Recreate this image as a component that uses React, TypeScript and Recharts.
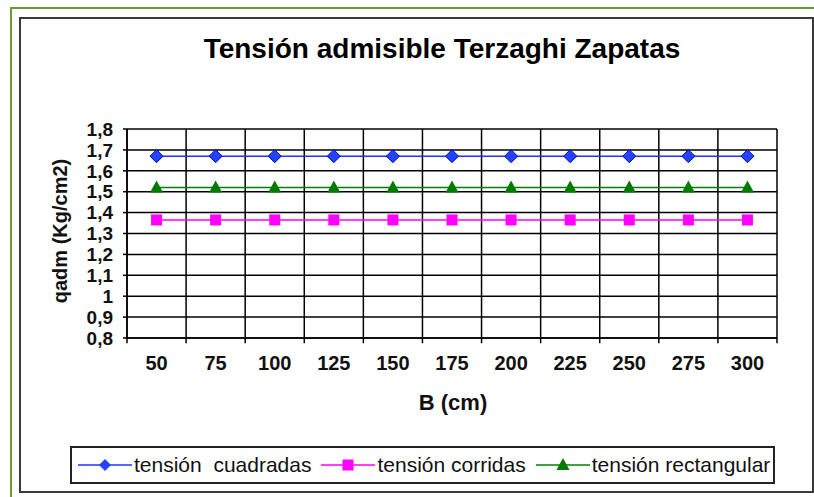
import React from 'react';
import { LineChart, Line, XAxis, YAxis, CartesianGrid, ReferenceLine } from 'recharts';

// B (cm) categories
const B_CM = [50, 75, 100, 125, 150, 175, 200, 225, 250, 275, 300];
// qadm (Kg/cm2)
const CUADRADAS = [1.67, 1.67, 1.67, 1.67, 1.67, 1.67, 1.67, 1.67, 1.67, 1.67, 1.67];
const CORRIDAS = [1.365, 1.365, 1.365, 1.365, 1.365, 1.365, 1.365, 1.365, 1.365, 1.365, 1.365];
const RECTANGULAR = [1.52, 1.52, 1.52, 1.52, 1.52, 1.52, 1.52, 1.52, 1.52, 1.52, 1.52];
const Y_TICKS = [0.8, 0.9, 1, 1.1, 1.2, 1.3, 1.4, 1.5, 1.6, 1.7, 1.8];
// category boundaries (Excel draws grid between categories)
const X_BOUNDS = [37.5, 62.5, 87.5, 112.5, 137.5, 162.5, 187.5, 212.5, 237.5, 262.5, 287.5, 312.5];

const FONT = "'Liberation Sans', Arial, sans-serif";

const data = B_CM.map((b, i) => ({
  b,
  cuadradas: CUADRADAS[i],
  corridas: CORRIDAS[i],
  rectangular: RECTANGULAR[i],
}));

const Diamond = (props: any) => {
  const { cx, cy } = props;
  if (cx == null || cy == null) return null;
  const r = 6.5;
  return (
    <polygon
      points={`${cx},${cy - r} ${cx + r},${cy} ${cx},${cy + r} ${cx - r},${cy}`}
      fill="#2244ff"
      stroke="#0000cc"
      strokeWidth={1}
    />
  );
};

const Square = (props: any) => {
  const { cx, cy } = props;
  if (cx == null || cy == null) return null;
  return <rect x={cx - 5.5} y={cy - 5.5} width={11} height={11} fill="#ff00ff" />;
};

const Triangle = (props: any) => {
  const { cx, cy } = props;
  if (cx == null || cy == null) return null;
  return (
    <polygon
      points={`${cx},${cy - 7} ${cx + 6.5},${cy + 5} ${cx - 6.5},${cy + 5}`}
      fill="#007a00"
    />
  );
};

const fmtY = (v: number) => (Number.isInteger(v) ? String(v) : v.toFixed(1).replace('.', ','));

const LegendItem = ({ color, marker, label }: { color: string; marker: React.ReactNode; label: string }) => (
  <div style={{ display: 'flex', alignItems: 'center', marginRight: 10 }}>
    <svg width={54} height={20}>
      <line x1={0} y1={10} x2={54} y2={10} stroke={color} strokeWidth={1.5} />
      {marker}
    </svg>
    <span style={{ marginLeft: 2, whiteSpace: 'pre' }}>{label}</span>
  </div>
);

export default function App() {
  return (
    <div
      style={{
        position: 'absolute',
        left: 0,
        top: 0,
        width: 814,
        height: 497,
        background: '#fff',
        overflow: 'hidden',
        fontFamily: FONT,
      }}
    >
      <div
        style={{
          position: 'absolute',
          left: 10,
          top: 7,
          width: 830,
          height: 520,
          border: '2px solid #6b9a3c',
        }}
      />
      <div
        style={{
          position: 'absolute',
          left: 19,
          top: 17,
          width: 791,
          height: 472,
          border: '2px solid #3a3a3a',
        }}
      />
      <div
        style={{
          position: 'absolute',
          left: 0,
          width: 884,
          top: 32,
          textAlign: 'center',
          fontSize: 28,
          lineHeight: '34px',
          fontWeight: 'bold',
          color: '#000',
        }}
      >
        Tensión admisible Terzaghi Zapatas
      </div>
      <div
        style={{
          position: 'absolute',
          left: 60,
          top: 231,
          transform: 'translate(-50%, -50%) rotate(-90deg)',
          whiteSpace: 'nowrap',
          fontSize: 20,
          fontWeight: 'bold',
          color: '#111',
        }}
      >
        qadm (Kg/cm2)
      </div>
      <div
        style={{
          position: 'absolute',
          left: 453,
          top: 403,
          transform: 'translate(-50%, -50%)',
          whiteSpace: 'nowrap',
          fontSize: 22,
          fontWeight: 'bold',
          color: '#111',
        }}
      >
        B (cm)
      </div>
      <div style={{ position: 'absolute', left: 0, top: 0 }}>
        <LineChart width={814} height={497} data={data} margin={{ top: 129, right: 37, bottom: 119, left: 67 }}>
          <CartesianGrid vertical={false} stroke="#000" strokeWidth={1.5} />
          <XAxis
            dataKey="b"
            type="number"
            domain={[37.5, 312.5]}
            ticks={B_CM}
            allowDataOverflow
            axisLine={{ stroke: '#000', strokeWidth: 1.5 }}
            tickLine={false}
            tickMargin={12}
            height={40}
            tick={{ fill: '#111', fontSize: 20, fontWeight: 'bold', fontFamily: FONT }}
          />
          <YAxis
            type="number"
            domain={[0.8, 1.8]}
            ticks={Y_TICKS}
            interval={0}
            width={60}
            tickFormatter={fmtY}
            axisLine={{ stroke: '#000', strokeWidth: 1.5 }}
            tickLine={{ stroke: '#000', strokeWidth: 1.5 }}
            tickSize={4}
            tickMargin={10}
            tick={{ fill: '#111', fontSize: 19, fontWeight: 'bold', fontFamily: FONT }}
          />
          {X_BOUNDS.map((x) => (
            <ReferenceLine
              key={x}
              segment={[
                { x, y: 0.775 },
                { x, y: 1.8 },
              ]}
              ifOverflow="visible"
              stroke="#000"
              strokeWidth={1.5}
            />
          ))}
          <Line
            dataKey="cuadradas"
            stroke="#2233ff"
            strokeWidth={1.5}
            dot={<Diamond />}
            isAnimationActive={false}
          />
          <Line
            dataKey="corridas"
            stroke="#ff00ff"
            strokeWidth={1.5}
            dot={<Square />}
            isAnimationActive={false}
          />
          <Line
            dataKey="rectangular"
            stroke="#008000"
            strokeWidth={1.5}
            dot={<Triangle />}
            isAnimationActive={false}
          />
        </LineChart>
      </div>
      <div
        style={{
          position: 'absolute',
          left: 70,
          top: 446,
          width: 705,
          height: 38,
          border: '2px solid #222',
          display: 'flex',
          alignItems: 'center',
          paddingLeft: 6,
          boxSizing: 'border-box',
          fontSize: 21,
          color: '#111',
        }}
      >
        <LegendItem
          color="#2233ff"
          label="tensión  cuadradas"
          marker={<polygon points="27,4 33,10 27,16 21,10" fill="#2244ff" />}
        />
        <LegendItem
          color="#ff00ff"
          label="tensión corridas"
          marker={<rect x={21.5} y={4.5} width={11} height={11} fill="#ff00ff" />}
        />
        <LegendItem
          color="#008000"
          label="tensión rectangular"
          marker={<polygon points="27,3 33.5,15 20.5,15" fill="#007a00" />}
        />
      </div>
    </div>
  );
}
